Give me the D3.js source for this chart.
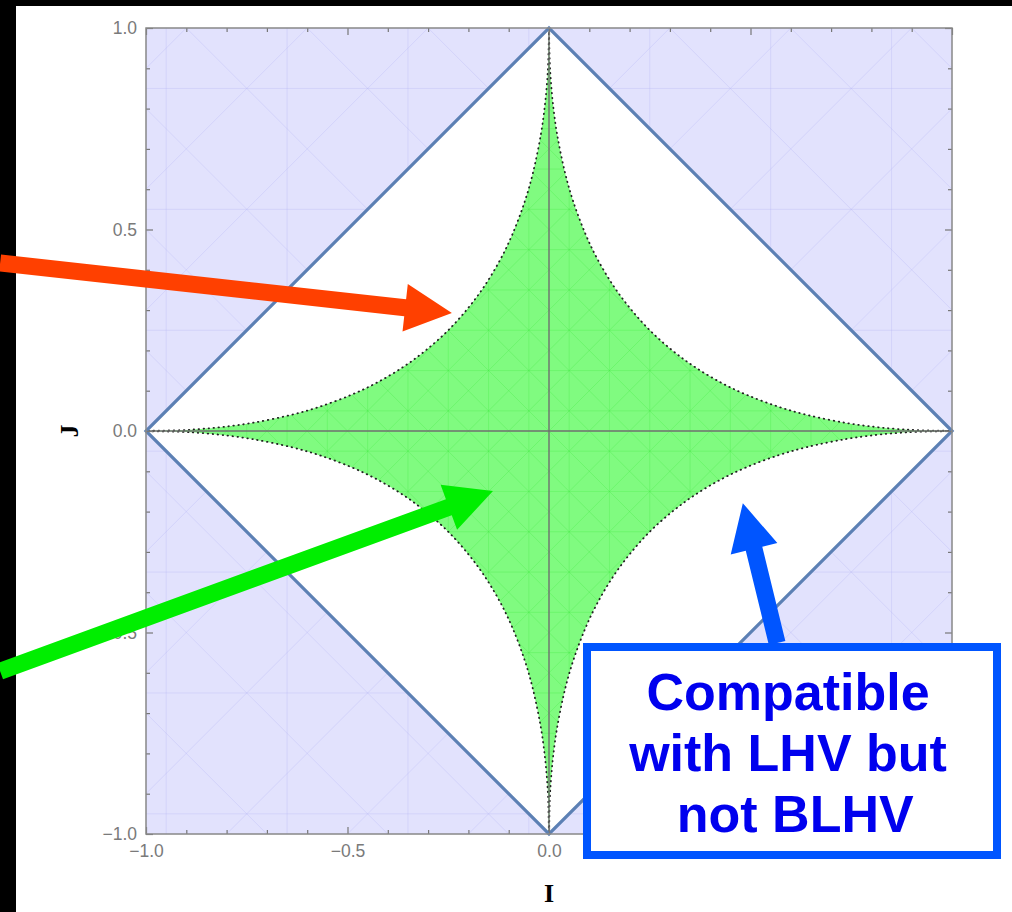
<!DOCTYPE html>
<html>
<head>
<meta charset="utf-8">
<script src="https://cdn.jsdelivr.net/npm/d3@7"></script>
<style>
  body { margin: 0; background: #fff; }
  svg { display: block; }
</style>
</head>
<body>
<script>
// Tick values of the frame
const majorTicks = [-1, -0.5, 0, 0.5, 1];
const minorTicks = [-0.9, -0.8, -0.7, -0.6, -0.4, -0.3, -0.2, -0.1, 0.1, 0.2, 0.3, 0.4, 0.6, 0.7, 0.8, 0.9];

// Corners of the diamond |I| + |J| = 1
const diamond = [[1, 0], [0, 1], [-1, 0], [0, -1]];

// Boundary of the green region in the first quadrant
const boundaryQ1 = [
  [0, 1], [0.002, 0.913], [0.005, 0.864], [0.01, 0.81], [0.02, 0.737],
  [0.04, 0.64], [0.06, 0.57], [0.09, 0.49], [0.12, 0.427], [0.16, 0.36],
  [0.2, 0.306], [0.25, 0.25], [0.306, 0.2], [0.36, 0.16], [0.427, 0.12],
  [0.49, 0.09], [0.57, 0.06], [0.64, 0.04], [0.737, 0.02], [0.81, 0.01],
  [0.864, 0.005], [0.913, 0.002], [1, 0]
];

// Annotation arrows: tail and tip in (I, J) units
const arrows = [
  { tail: [-1.362, 0.417], tip: [-0.241, 0.293], color: "#ff4000" },
  { tail: [-1.362, -0.596], tip: [-0.139, -0.149], color: "#00ee00" },
  { tail: [0.566, -0.526], tip: [0.481, -0.179], color: "#0055ff" }
];
const boxLines = ["Compatible", "with LHV but", " not BLHV"];

const W = 1012, H = 912;
const plot = { left: 146, right: 952, top: 28, bottom: 834 };

const svg = d3.select("body").append("svg")
  .attr("width", W).attr("height", H);

svg.append("rect").attr("width", W).attr("height", H).attr("fill", "#fff");
// black border of the screenshot
svg.append("rect").attr("x", 0).attr("y", 0).attr("width", W).attr("height", 6).attr("fill", "#000");
svg.append("rect").attr("x", 0).attr("y", 0).attr("width", 16).attr("height", H).attr("fill", "#000");

const x = d3.scaleLinear().domain([-1, 1]).range([plot.left, plot.right]);
const y = d3.scaleLinear().domain([-1, 1]).range([plot.bottom, plot.top]);

const toPx = p => [x(p[0]), y(p[1])];

// Full closed boundary from the first quadrant by reflection
const q1 = boundaryQ1;
const q4 = boundaryQ1.slice().reverse().map(([i, j]) => [i, -j]);
const q3 = boundaryQ1.map(([i, j]) => [-i, -j]);
const q2 = boundaryQ1.slice().reverse().map(([i, j]) => [-i, j]);
const boundary = [...q1, ...q4.slice(1), ...q3.slice(1), ...q2.slice(1)];

const line = d3.line().x(d => x(d[0])).y(d => y(d[1])).curve(d3.curveCatmullRom.alpha(0.5));
const poly = pts => "M" + pts.map(p => toPx(p).join(",")).join("L") + "Z";

const defs = svg.append("defs");
const squarePath = poly([[-1, -1], [1, -1], [1, 1], [-1, 1]]);
const diamondPath = poly(diamond);
defs.append("clipPath").attr("id", "outer")
  .append("path").attr("d", squarePath + diamondPath).attr("clip-rule", "evenodd");
defs.append("clipPath").attr("id", "inner")
  .append("path").attr("d", line(boundary));

// light blue region outside the diamond
svg.append("path")
  .attr("d", squarePath + diamondPath)
  .attr("fill-rule", "evenodd")
  .attr("fill", "#e2e2fd");

// faint mesh lines (triangulation look)
function mesh(clipId, color, step, opacity) {
  const g = svg.append("g").attr("clip-path", `url(#${clipId})`)
    .attr("stroke", color).attr("stroke-opacity", opacity).attr("stroke-width", 1).attr("fill", "none");
  const cs = d3.range(-2, 2.001, step);
  cs.forEach(c => {
    g.append("line").attr("x1", x(-1)).attr("y1", y(-1 + c)).attr("x2", x(1)).attr("y2", y(1 + c));
    g.append("line").attr("x1", x(-1)).attr("y1", y(1 + c)).attr("x2", x(1)).attr("y2", y(-1 + c));
  });
  d3.range(-0.95, 1, step).forEach(c => {
    g.append("line").attr("x1", x(c)).attr("x2", x(c)).attr("y1", y(-1)).attr("y2", y(1));
    g.append("line").attr("y1", y(c)).attr("y2", y(c)).attr("x1", x(-1)).attr("x2", x(1));
  });
}
mesh("outer", "#b4b4f5", 0.3, 0.3);

// green region
svg.append("path")
  .attr("d", line(boundary))
  .attr("fill", "#80fb80");
mesh("inner", "#3ee83e", 0.1, 0.28);

// dotted edge of green region
svg.append("path")
  .attr("d", line(boundary))
  .attr("fill", "none")
  .attr("stroke", "#222")
  .attr("stroke-width", 1.8)
  .attr("stroke-linecap", "round")
  .attr("stroke-dasharray", "0.5,4.5");

// zero lines
svg.append("line").attr("x1", x(0)).attr("x2", x(0)).attr("y1", y(-1)).attr("y2", y(1))
  .attr("stroke", "#6f6f6f").attr("stroke-width", 1.4);
svg.append("line").attr("x1", x(-1)).attr("x2", x(1)).attr("y1", y(0)).attr("y2", y(0))
  .attr("stroke", "#6f6f6f").attr("stroke-width", 1.4);

// diamond edges
svg.append("path")
  .attr("d", diamondPath)
  .attr("fill", "none")
  .attr("stroke", "#5c80b4")
  .attr("stroke-width", 3.2)
  .attr("stroke-linejoin", "miter");

// frame with inward ticks
const fmt = d3.format(".1f");
function frameAxis(axisFn, scale, tx, ty, size, labels, values) {
  const a = axisFn(scale).tickValues(values).tickSize(size).tickSizeOuter(0)
    .tickFormat(labels ? fmt : "").tickPadding(labels ? 9 : 0);
  const g = svg.append("g").attr("transform", `translate(${tx},${ty})`).call(a);
  g.select(".domain").remove();
  g.selectAll(".tick line").attr("stroke", "#777").attr("stroke-width", 1.2);
  g.selectAll("text").attr("fill", "#7a7a7a").attr("font-size", 17.5)
    .attr("font-family", "Liberation Sans, Arial, sans-serif");
  return g;
}
frameAxis(d3.axisBottom, x, 0, plot.bottom, -7, true, majorTicks).selectAll("text").attr("dy", "0.8em");
frameAxis(d3.axisBottom, x, 0, plot.bottom, -4, false, minorTicks);
frameAxis(d3.axisTop, x, 0, plot.top, -7, false, majorTicks);
frameAxis(d3.axisTop, x, 0, plot.top, -4, false, minorTicks);
frameAxis(d3.axisLeft, y, plot.left, 0, -7, true, majorTicks);
frameAxis(d3.axisLeft, y, plot.left, 0, -4, false, minorTicks);
frameAxis(d3.axisRight, y, plot.right, 0, -7, false, majorTicks);
frameAxis(d3.axisRight, y, plot.right, 0, -4, false, minorTicks);

svg.append("rect")
  .attr("x", plot.left).attr("y", plot.top)
  .attr("width", plot.right - plot.left).attr("height", plot.bottom - plot.top)
  .attr("fill", "none").attr("stroke", "#888").attr("stroke-width", 1.5);

// axis titles
svg.append("text").attr("x", x(0)).attr("y", 902)
  .attr("text-anchor", "middle")
  .attr("font-family", "Liberation Serif, Times New Roman, serif")
  .attr("font-weight", "bold").attr("font-size", 26).text("I");
svg.append("text")
  .attr("transform", `translate(78,${y(0)}) rotate(-90)`)
  .attr("text-anchor", "middle")
  .attr("font-family", "Liberation Serif, Times New Roman, serif")
  .attr("font-weight", "bold").attr("font-size", 26).text("J");

// arrows
function arrowPath(tail, tip, w, L, h) {
  const [tx, ty] = toPx(tail), [px, py] = toPx(tip);
  const len = Math.hypot(px - tx, py - ty);
  const ux = (px - tx) / len, uy = (py - ty) / len;
  const nx = -uy, ny = ux;
  const bx = px - ux * L, by = py - uy * L;
  const pts = [
    [tx + nx * w / 2, ty + ny * w / 2],
    [bx + nx * w / 2, by + ny * w / 2],
    [bx + nx * h, by + ny * h],
    [px, py],
    [bx - nx * h, by - ny * h],
    [bx - nx * w / 2, by - ny * w / 2],
    [tx - nx * w / 2, ty - ny * w / 2]
  ];
  return "M" + pts.map(p => p.join(",")).join("L") + "Z";
}
svg.selectAll("path.arrow").data(arrows).enter().append("path")
  .attr("class", "arrow")
  .attr("d", d => arrowPath(d.tail, d.tip, 17, 47, 24))
  .attr("fill", d => d.color);

// annotation box
svg.append("rect")
  .attr("x", 587).attr("y", 647).attr("width", 410).attr("height", 208)
  .attr("fill", "#fff").attr("stroke", "#0055ff").attr("stroke-width", 8);
svg.append("g").selectAll("text").data(boxLines).enter().append("text")
  .attr("x", 788)
  .attr("y", (d, i) => 710 + i * 61)
  .attr("text-anchor", "middle")
  .attr("xml:space", "preserve")
  .style("white-space", "pre")
  .attr("font-family", "Liberation Sans, Arial, Helvetica, sans-serif")
  .attr("font-weight", "bold")
  .attr("font-size", 52)
  .attr("fill", "#0000ee")
  .text(d => d);
</script>
</body>
</html>
